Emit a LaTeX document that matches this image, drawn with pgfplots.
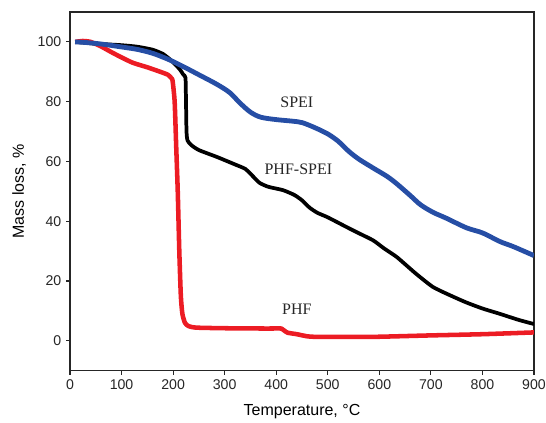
\documentclass[border=0pt]{standalone}
\usepackage{pgfplots}
\pgfplotsset{compat=1.18}
\usepackage{fontspec}
\setmainfont{Liberation Sans}
\newfontfamily\serifann{Liberation Serif}
\definecolor{cred}{RGB}{236,28,36}
\definecolor{cblue}{RGB}{38,78,165}
\begin{document}
\begin{tikzpicture}
\path[use as bounding box] (-52.5pt,-38.5pt) rectangle (357pt,278pt);
\begin{axis}[
  at={(0,0)}, anchor=south west,
  scale only axis, width=348pt, height=269pt,
  xmin=0, xmax=900, ymin=-10, ymax=110,
  xtick={0,100,...,900}, ytick={0,20,...,100},
  tick align=outside, tick pos=left,
  major tick length=3pt,
  axis line style={line width=0.9pt, black!85},
  every tick/.style={line width=0.8pt, black!85},
  /pgf/number format/assume math mode=true,
  ticklabel style={font=\fontsize{10.6}{12}\selectfont, text=black!85},
  xlabel={Temperature, °C}, ylabel={Mass loss, \%},
  label style={font=\fontsize{12}{14}\selectfont},
  xlabel style={yshift=-4pt},
  ylabel style={yshift=2pt},
  clip=true,
]
\addplot[cred, line width=3.4pt, line join=round, smooth, tension=0.35] coordinates {
(10,100)(25,100.3)(40,100)(60,98.5)(80,96.6)(100,94.8)(122,93)(150,91.5)(175,90)(190,89)(197,87.8)(199,87)(203,80)(206,65)(209,50)(212,30)(215,15)(218,9)(223,6)(230,4.9)(245,4.4)(300,4.2)(380,4.1)(410,4.1)(415,3.5)(422,2.7)(440,2.2)(460,1.5)(480,1.3)(550,1.3)(600,1.35)(700,1.8)(800,2.2)(900,2.8)
};
\addplot[black, line width=2.8pt, line join=round, smooth, tension=0.35] coordinates {
(10,100)(50,99.4)(100,98.9)(130,98.4)(160,97.4)(180,96)(195,94)(205,92.3)(213,90.8)(220,89)(224,88)(225,80)(226,70)(228,67)(235,65.5)(250,63.8)(285,61.5)(320,59)(340,57.5)(355,55)(368,52.8)(385,51.5)(413,50.4)(435,48.8)(450,47)(465,44.5)(480,42.8)(500,41.3)(537,38)(560,36)(588,33.6)(610,30.8)(634,28)(670,22.6)(704,18)(740,15)(769,12.8)(800,10.8)(834,9)(870,7)(900,5.6)
};
\addplot[cblue, line width=3.6pt, line join=round, smooth, tension=0.5] coordinates {
(10,100)(30,99.8)(60,99.3)(100,98.3)(130,97.5)(160,96.2)(190,94.2)(219,91.8)(250,89)(285,85.8)(310,83)(330,79.5)(350,76.5)(370,74.8)(400,74)(430,73.5)(450,73)(475,71.3)(500,69.2)(520,66.8)(540,63.5)(560,60.8)(590,57.6)(615,55)(634,52.5)(660,48.6)(680,45.5)(704,43)(730,41)(769,37.8)(800,36.1)(834,33.2)(860,31.5)(900,28.5)
};
\node[font=\serifann\fontsize{12}{14}\selectfont, text=black!85] at (axis cs:440,79.8) {SPEI};
\node[font=\serifann\fontsize{12}{14}\selectfont, text=black!85] at (axis cs:443,57.5) {PHF-SPEI};
\node[font=\serifann\fontsize{12}{14}\selectfont, text=black!85] at (axis cs:440,10.4) {PHF};
\end{axis}
\end{tikzpicture}
\end{document}
